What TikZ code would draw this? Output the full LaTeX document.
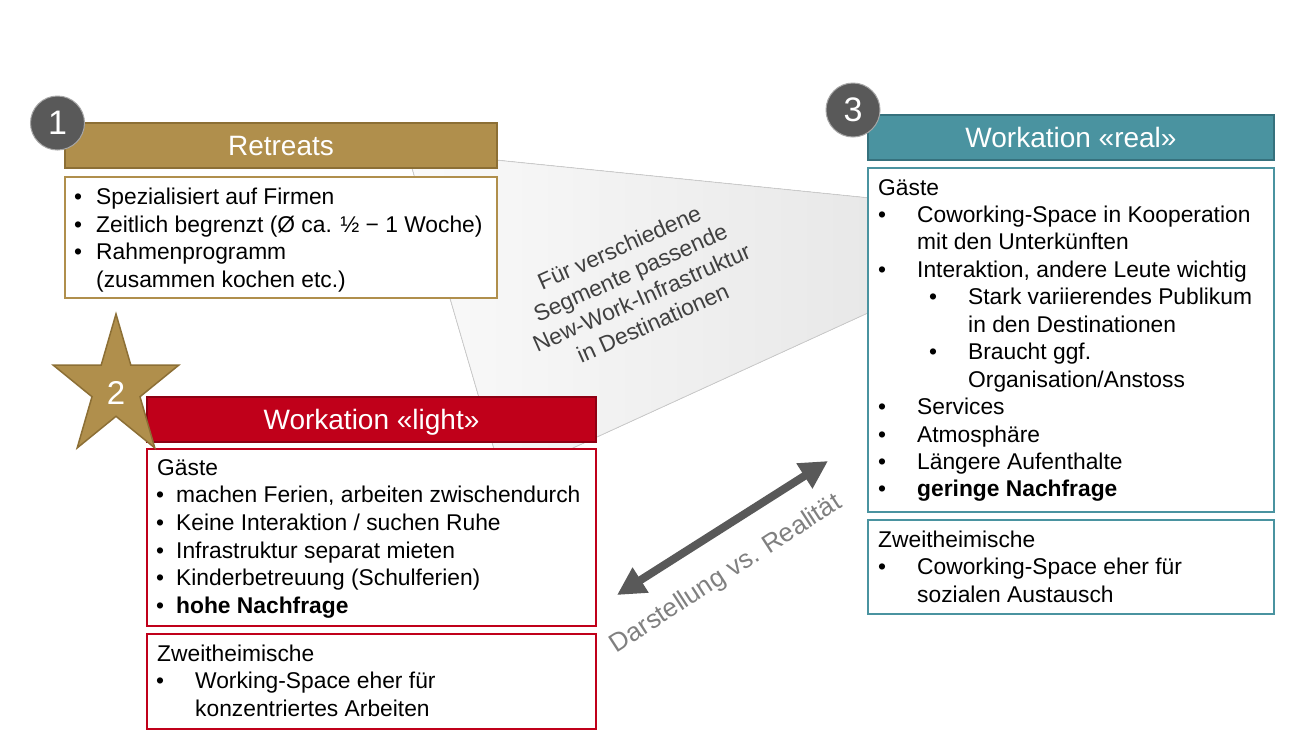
\documentclass[tikz,border=0pt]{standalone}
\usepackage{fontspec}
\setmainfont{Liberation Sans}
\usetikzlibrary{arrows.meta}
\definecolor{gold}{HTML}{B08F4C}
\definecolor{golddark}{HTML}{8C6F35}
\definecolor{redbox}{HTML}{C0001A}
\definecolor{reddark}{HTML}{8E0013}
\definecolor{tealbox}{HTML}{4A93A0}
\definecolor{tealdark}{HTML}{36717D}
\definecolor{numgray}{HTML}{595959}
\definecolor{txtgray}{HTML}{404040}
\newcommand{\bodyfont}{\fontsize{22.8}{27.5}\selectfont}
\newcommand{\bul}[1]{\llap{\textbullet\hspace*{#1pt}}}

\begin{document}
\begin{tikzpicture}[x=1pt, y=-1pt,
    body/.style={font=\bodyfont, anchor=base west, inner sep=0pt},
    head/.style={draw=#1, line width=2pt, minimum height=45pt, inner sep=0pt, text=white,
        font=\fontsize{28}{30}\selectfont, text height=20pt, text depth=0pt},
    box/.style={draw=#1, fill=white, line width=2pt, inner sep=0pt},
    numcircle/.style={circle, fill=numgray, draw=gray!70, line width=1pt, minimum size=54pt,
        inner sep=0pt, text=white, font=\fontsize{34}{34}\selectfont}]
        % Background
        \fill[white] (0,0) rectangle (1303,745);
        \useasboundingbox (0,0) rectangle (1303,745);
        % Gray funnel behind the boxes
        \fill[left color=gray!4, right color=gray!18] (407,151) -- (870,198) -- (870,312) -- (503,480) -- cycle;
        \draw[gray!40, line width=0.8pt] (407,151) -- (870,198) (870,312) -- (503,480) -- (407,151);
        \node[rotate=24, align=center, text=txtgray, font=\bodyfont, inner sep=0pt] (funnel) at (636,285)
            {Für verschiedene\\Segmente passende\\New-Work-Infrastruktur\\in Destinationen};
        % 1: Retreats
        \node[head=golddark, fill=gold, minimum width=432pt] (hret) at (281,145.5) {Retreats};
        \node[box=gold, minimum width=432pt, minimum height=121pt] (bret) at (281,237.5) {};
        \foreach \k/\lbl in {0/{\bul{14}Spezialisiert auf Firmen},
                             1/{\bul{14}Zeitlich begrenzt (Ø ca. ½ − 1 Woche)},
                             2/{\bul{14}Rahmenprogramm},
                             3/{(zusammen kochen etc.)}} {
            \node[body] (ret\k) at (96, 204.5+27.7*\k) {\lbl};
        }
        \node[numcircle] (n1) at (57.5,123) {1};
        % 2: Workation light
        \node[head=reddark, fill=redbox, minimum width=449pt] (hlight) at (371.5,419) {Workation «light»};
        \node[box=redbox, minimum width=449pt, minimum height=177pt] (blight) at (371.5,537.5) {};
        \node[box=redbox, minimum width=449pt, minimum height=95pt] (blight2) at (371.5,681.5) {};
        \foreach \k/\xx/\lbl in {0/157/{Gäste},
                                 1/176/{\bul{12}machen Ferien, arbeiten zwischendurch},
                                 2/176/{\bul{12}Keine Interaktion / suchen Ruhe},
                                 3/176/{\bul{12}Infrastruktur separat mieten},
                                 4/176/{\bul{12}Kinderbetreuung (Schulferien)},
                                 5/176/{\bul{12}\textbf{hohe Nachfrage}}} {
            \node[body] (light\k) at (\xx, 475+27.7*\k) {\lbl};
        }
        \foreach \k/\xx/\lbl in {0/157/{Zweitheimische},
                                 1/195/{\bul{31}Working-Space eher für},
                                 2/195/{konzentriertes Arbeiten}} {
            \node[body] (lighttwo\k) at (\xx, 661+27.5*\k) {\lbl};
        }
        % Star 2
        \draw[golddark, fill=gold, line width=1.5pt] (116,314) -- (130.8,365.1) -- (178.8,365.1) -- (140,396.7)
            -- (154.8,447.9) -- (116,416.3) -- (77.2,447.9) -- (92,396.7) -- (53.2,365.1) -- (101.2,365.1) -- cycle;
        \node[text=white, font=\fontsize{33}{33}\selectfont, inner sep=0pt] (n2) at (116,393) {2};
        % 3: Workation real
        \node[head=tealdark, fill=tealbox, minimum width=406pt] (hreal) at (1071,137.5) {Workation «real»};
        \node[box=tealbox, minimum width=406pt, minimum height=344pt] (breal) at (1071,340) {};
        \node[box=tealbox, minimum width=406pt, minimum height=94pt] (breal2) at (1071,567) {};
        \foreach \k/\xx/\lbl in {0/878/{Gäste},
                                 1/917/{\bul{31}Coworking-Space in Kooperation},
                                 2/917/{mit den Unterkünften},
                                 3/917/{\bul{31}Interaktion, andere Leute wichtig},
                                 4/968/{\bul{31}Stark variierendes Publikum},
                                 5/968/{in den Destinationen},
                                 6/968/{\bul{31}Braucht ggf.},
                                 7/968/{Organisation/Anstoss},
                                 8/917/{\bul{31}Services},
                                 9/917/{\bul{31}Atmosphäre},
                                 10/917/{\bul{31}Längere Aufenthalte},
                                 11/917/{\bul{31}\textbf{geringe Nachfrage}}} {
            \node[body] (real\k) at (\xx, 195+27.45*\k) {\lbl};
        }
        \foreach \k/\xx/\lbl in {0/878/{Zweitheimische},
                                 1/917/{\bul{31}Coworking-Space eher für},
                                 2/917/{sozialen Austausch}} {
            \node[body] (realtwo\k) at (\xx, 547+27.5*\k) {\lbl};
        }
        \node[numcircle] (n3) at (853,110) {3};
        % Darstellung vs. Realitaet
        \coordinate (al) at (617,595);
        \coordinate (ar) at (828,461);
        \draw[numgray, line width=8pt, {Triangle[length=28pt,width=28pt]}-{Triangle[length=28pt,width=28pt]}] (al) -- (ar);
        \node[rotate=33, anchor=base, inner sep=0pt, text=gray, font=\fontsize{26}{26}\selectfont] (dvr) at (730,580)
            {Darstellung vs. Realität};
    \end{tikzpicture}
\end{document}
